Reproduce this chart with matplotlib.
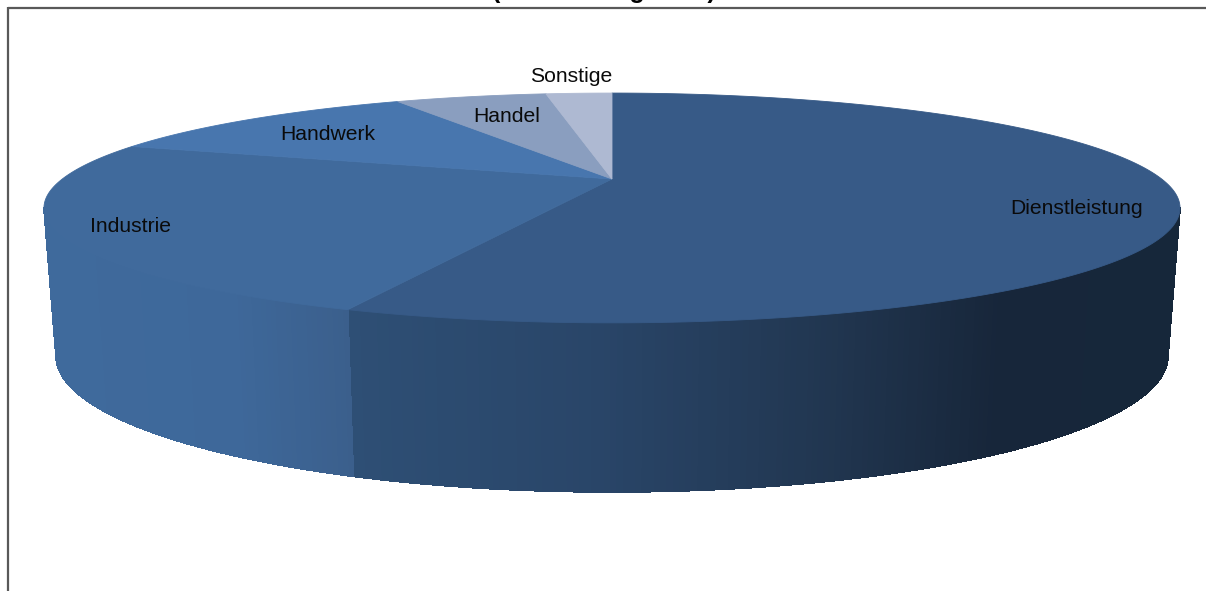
import numpy as np
from matplotlib import pyplot as plt
from matplotlib.colors import to_rgb

plt.rcParams['font.family'] = ['Liberation Sans', 'DejaVu Sans']

# Anteile in Prozent, im Uhrzeigersinn ab 12 Uhr
categories = ['Dienstleistung', 'Industrie', 'Handwerk', 'Handel', 'Sonstige']
shares = [56.0, 24.3, 11.8, 5.5, 2.4]

# nur die Unterlaengen sind im Bild zu sehen, der Wortlaut ist geschaetzt
title_text = '(Auswertung 2012)'

top_colors = ['#375a87', '#406a9c', '#4876ae', '#8a9ebf', '#aeb9d2']
# Seitenwand: Farbe von links nach rechts
wall_colors = {
    'Dienstleistung': [(349, '#2e4f75'), (600, '#294568'), (830, '#213650'), (1000, '#17263a'), (1180, '#16273a')],
    'Industrie': [(50, '#3f6a9c'), (230, '#3e689a'), (349, '#3b5f8c')],
}
label_pos = {
    'Dienstleistung': (1077, 208),
    'Industrie': (130, 226),
    'Handwerk': (328, 135),
    'Handel': (507, 116),
    'Sonstige': (571, 76),
}

CX = 612
K = 0.252  # Perspektive


def project(theta, a, c, d):
    """Kreiswinkel (Grad, ab 12 Uhr im Uhrzeigersinn) auf Pixel abbilden"""
    t = np.radians(theta)
    u, v = np.sin(t), np.cos(t)
    w = 1 + K * v
    return CX + a * u / w, (c + d * v) / w


def top(theta):
    return project(theta, 549.7, 179, -62.5)


def bottom(theta):
    return project(theta, 538, 321.7, -46.3)


def wall_color(stops, x):
    xs = [s[0] for s in stops]
    rgb = np.array([to_rgb(s[1]) for s in stops])
    return [np.interp(x, xs, rgb[:, i]) for i in range(3)]


def main():
    fig = plt.figure(figsize=(12.06, 5.91), dpi=100)
    ax = fig.add_axes([0, 0, 1, 1])
    ax.set_xlim(0, 1206)
    ax.set_ylim(591, 0)
    ax.axis('off')

    edges = np.concatenate([[0], np.cumsum(shares)]) / np.sum(shares) * 360

    # Seitenwand, nur der sichtbare Teil vorne
    wall_from, wall_to = 104.6, 255.4
    for i, name in enumerate(categories):
        if name not in wall_colors:
            continue
        start = max(edges[i], wall_from)
        end = min(edges[i + 1], wall_to)
        steps = np.linspace(start, end, int((end - start) * 2) + 2)
        for a0, a1 in zip(steps[:-1], steps[1:]):
            x0, y0 = top(a0)
            x1, y1 = top(a1)
            x2, y2 = bottom(a1)
            x3, y3 = bottom(a0)
            col = wall_color(wall_colors[name], (x0 + x1) / 2)
            # ohne Kantenglaettung, sonst sieht man die Naehte zwischen den Streifen
            ax.fill([x0, x1, x2, x3], [y0, y1, y2, y3], facecolor=col, edgecolor=col,
                    lw=0.5, antialiased=False, zorder=2)

    # Deckflaeche
    for i, col in enumerate(top_colors):
        angles = np.linspace(edges[i], edges[i + 1], 200)
        xs, ys = top(angles)
        xs = np.concatenate([[CX], xs])
        ys = np.concatenate([[179], ys])
        ax.fill(xs, ys, color=col, lw=0.6, zorder=3)

    for name in categories:
        x, y = label_pos[name]
        ax.text(x, y, name, fontsize=15.2, color='#0a0a0a', ha='center', va='center', zorder=5)

    # Rahmen
    ax.plot([8, 1206], [7.5, 7.5], color='#595959', lw=1.6, solid_capstyle='butt', zorder=4)
    ax.plot([8, 8], [7, 591], color='#595959', lw=1.6, solid_capstyle='butt', zorder=4)

    # Titel, oben abgeschnitten
    ax.text(604, -2, title_text, fontsize=18, fontweight='bold', color='black',
            ha='center', va='baseline', clip_on=False, zorder=5)

    fig.savefig('out.png', dpi=100)


if __name__ == '__main__':
    main()
